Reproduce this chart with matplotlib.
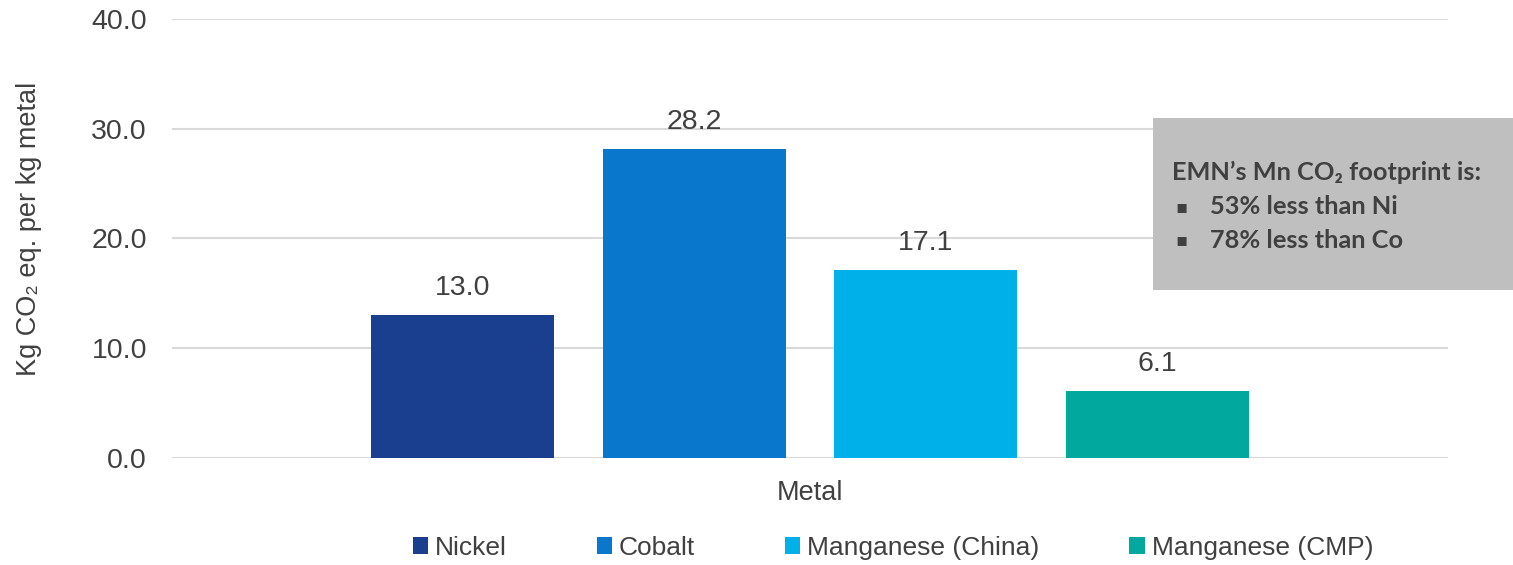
import matplotlib
matplotlib.use("Agg")
import matplotlib.pyplot as plt
from matplotlib.patches import Rectangle

# data
metals = ["Nickel", "Cobalt", "Manganese (China)", "Manganese (CMP)"]
values = [13.0, 28.2, 17.1, 6.1]
colors = ["#1B3F8F", "#0877CC", "#00B0E8", "#00A89D"]
yticks = [0, 10, 20, 30, 40]
box_title = "EMN\u2019s Mn CO\u2082 footprint is:"
box_items = ["53% less than Ni", "78% less than Co"]

txt = "#404040"
plt.rcParams['font.family'] = ['Liberation Sans', 'DejaVu Sans']

fig = plt.figure(figsize=(15.13, 5.65), dpi=100)
ax = fig.add_axes([172/1513, 1-458/565, (1448-172)/1513, (458-19)/565])

pos = [i - 1.5 for i in range(len(metals))]
bars = []
for p, v, c, m in zip(pos, values, colors, metals):
    b = ax.bar(p, v, width=0.79, color=c, label=m, zorder=3)
    bars.append(b)
    ax.annotate(f"{v:.1f}", (p, v), xytext=(0, 10), textcoords="offset points",
                ha="center", va="bottom", fontsize=20.5, color=txt)

ax.set_xlim(-2.756, 2.756)
ax.set_ylim(0, 40)
ax.set_yticks(yticks)
ax.set_yticklabels([f"{t:.1f}" for t in yticks])
ax.yaxis.grid(True, color="#D9D9D9", linewidth=1.5, zorder=0)
ax.set_xticks([])
for s in ax.spines.values():
    s.set_visible(False)
ax.tick_params(axis="y", length=0, pad=18, labelsize=20.5, labelcolor=txt)
ax.set_ylabel("Kg CO\u2082 eq. per kg metal", fontsize=19.5, color=txt)
ax.yaxis.set_label_coords(-0.102, 0.523)
ax.set_xlabel("Metal", fontsize=19.5, color=txt, labelpad=16)

# grey callout box
fig.patches.append(Rectangle((1153/1513, 1-290/565), 360/1513, 172/565,
                             transform=fig.transFigure, facecolor="#BFBFBF",
                             edgecolor="none", zorder=5))
fam = ['Lato', 'DejaVu Sans']
fig.text(1172/1513, 1-172/565, box_title, fontsize=18.3, fontweight="bold",
         color=txt, va="center", family=fam, zorder=6)
for i, item in enumerate(box_items):
    y = 1 - (207 + i * 33) / 565
    fig.text(1175/1513, y, "\u25aa", fontsize=13, color=txt, va="center", zorder=6,
             family=['DejaVu Sans'])
    fig.text(1210/1513, y, item, fontsize=18.3, fontweight="bold", color=txt,
             va="center", family=fam, zorder=6)

leg = fig.legend(handles=[b[0] for b in bars], labels=metals, loc="center",
                 bbox_to_anchor=(893/1513, 1-548/565), ncol=4, frameon=False,
                 handlelength=0.58, handleheight=0.58, handletextpad=0.27,
                 columnspacing=3.4, prop={'size': 19})
for t in leg.get_texts():
    t.set_color(txt)

fig.savefig("out.png", dpi=100)
